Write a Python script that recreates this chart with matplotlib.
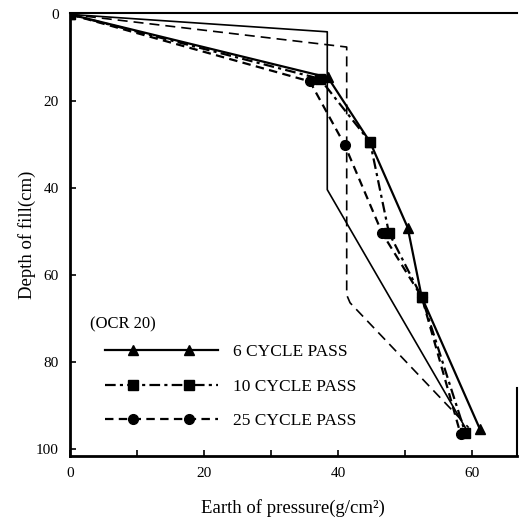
import matplotlib
matplotlib.use('Agg')
import matplotlib.pyplot as plt
from matplotlib.legend_handler import HandlerLine2D
from matplotlib.lines import Line2D

plt.rcParams['font.family'] = ['Liberation Serif', 'DejaVu Serif']

# measured earth pressure vs depth (OCR 20)
p_6 = [0, 38.5, 44.8, 50.4, 52.5, 61.2]
d_6 = [0, 14.5, 29.4, 49.0, 65.0, 95.4]

p_10 = [0, 37.3, 44.8, 47.6, 52.5, 59.0]
d_10 = [0, 14.8, 29.4, 50.2, 65.0, 96.2]

p_25 = [0, 35.8, 41.0, 46.6, 52.5, 58.3]
d_25 = [0, 15.4, 30.0, 50.3, 65.0, 96.5]

# theoretical envelopes
p_theo_a = [0, 38.4, 38.4, 59.0]
d_theo_a = [0, 4.0, 40.3, 95.0]
p_theo_b = [0, 41.3, 41.3, 41.8, 59.5]
d_theo_b = [0, 7.5, 64.5, 66.3, 95.0]

labels = ['6 CYCLE PASS', '10 CYCLE PASS', '25 CYCLE PASS']


class TwoMarkHandler(HandlerLine2D):
    """legend sample: full line, two markers at 1/4 and 3/4"""
    def create_artists(self, legend, orig_handle, xdescent, ydescent,
                       width, height, fontsize, trans):
        y = (height - ydescent) / 2
        x0 = -xdescent
        line = Line2D([x0, x0 + width], [y, y])
        self.update_prop(line, orig_handle, legend)
        line.set_marker('None')
        marks = Line2D([x0 + 0.25 * width, x0 + 0.75 * width], [y, y])
        self.update_prop(marks, orig_handle, legend)
        marks.set_linestyle('None')
        line.set_transform(trans)
        marks.set_transform(trans)
        return [line, marks]


fig = plt.figure(figsize=(5.2, 5.24), dpi=100)
ax = fig.add_axes([0.1346, 0.130, 0.8594, 0.845])

ax.plot(p_theo_a, d_theo_a, '-', color='black', lw=1.2)
ax.plot(p_theo_b, d_theo_b, color='black', lw=1.2, linestyle=(0, (6, 3.6)))

h6, = ax.plot(p_6, d_6, '-', color='black', lw=1.6, marker='^', ms=7.5,
              label=labels[0])
h10, = ax.plot(p_10, d_10, color='black', lw=1.6, linestyle=(0, (4.8, 1.9, 1.4, 1.9)),
               marker='s', ms=6.5, label=labels[1])
h25, = ax.plot(p_25, d_25, color='black', lw=1.6, linestyle=(0, (3.8, 2.4)),
               marker='o', ms=7, label=labels[2])

ax.set_xlim(0, 66.7)
ax.set_ylim(101.5, -0.3)
ax.set_xticks([0, 10, 20, 30, 40, 50, 60])
ax.set_xticklabels(['0', '', '20', '', '40', '', '60'])
ax.set_yticks([0, 20, 40, 60, 80, 100])
ax.tick_params(direction='in', length=4, width=1.2, labelsize=11, pad=8)

for s in ['left', 'bottom']:
    ax.spines[s].set_linewidth(2)
ax.spines['top'].set_linewidth(1.5)
ax.spines['right'].set_linewidth(1.5)
ax.spines['right'].set_bounds(86, 101.5)

ax.set_xlabel('Earth of pressure(g/cm²)', fontsize=13.5, labelpad=14)
ax.set_ylabel('Depth of fill(cm)', fontsize=13.5, labelpad=0)

ax.text(0.045, 0.315, '(OCR 20)', transform=ax.transAxes, fontsize=12,
        va='top', ha='left')
ax.legend(handles=[h6, h10, h25], loc='upper left', bbox_to_anchor=(0.078, 0.252),
          frameon=False, borderpad=0, borderaxespad=0, handlelength=6.5,
          handletextpad=0.9, labelspacing=1.05, fontsize=12.5,
          handler_map={Line2D: TwoMarkHandler()})

plt.savefig('out.png', dpi=100, facecolor='white')
